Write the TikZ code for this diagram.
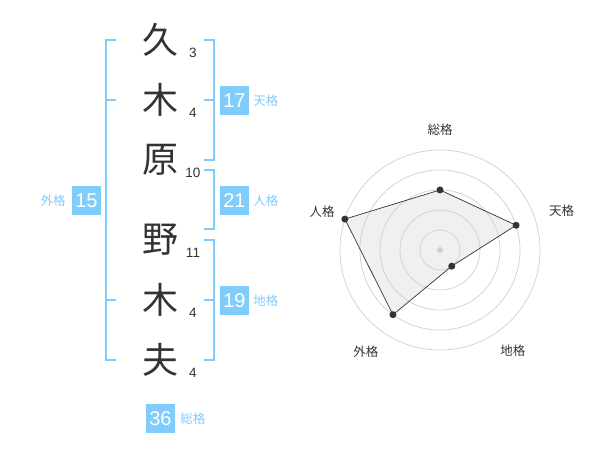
\documentclass[tikz,border=0pt]{standalone}
\usepackage{fontspec}
\setmainfont{Liberation Sans}
\newfontfamily\jpfont{Noto Sans CJK JP}
\usetikzlibrary{positioning}
\definecolor{skyline}{HTML}{80CCFA}
\definecolor{inkgray}{HTML}{333333}
\definecolor{ringgray}{HTML}{D0D0D0}
\definecolor{webfill}{HTML}{F0F0F0}

\begin{document}
\begin{tikzpicture}[x=1pt, y=1pt,
    kanji/.style={text=inkgray, font=\jpfont\fontsize{36}{36}\selectfont, inner sep=0pt},
    strokes/.style={text=inkgray, font=\fontsize{13.5}{13.5}\selectfont, inner sep=0pt},
    scorebox/.style={fill=skyline, text=white, minimum size=29pt, inner sep=0pt, font=\fontsize{20}{20}\selectfont},
    scorelabel/.style={text=skyline, font=\jpfont\fontsize{12.5}{12.5}\selectfont, inner sep=0pt},
    bracket/.style={draw=skyline, line width=2pt},
    ring/.style={draw=ringgray, line width=0.7pt},
    axislabel/.style={text=inkgray, font=\jpfont\fontsize{12.5}{12.5}\selectfont, inner sep=0pt},
    dot/.style={circle, fill=inkgray, minimum size=7pt, inner sep=0pt}]

    \useasboundingbox (0,0) rectangle (600,470);

    % characters of the name and their stroke counts
    \foreach \ch/\n/\y [count=\i] in {久/3/430, 木/4/370, 原/10/310, 野/11/230, 木/4/170, 夫/4/110} {
        \node[kanji] (k\i) at (160,\y) {\ch};
        \node[strokes] (s\i) at (193,\y-13) {\n};
    }

    % brackets
    \draw[bracket] (116,430) -- (106,430) -- (106,110) -- (116,110);
    \draw[bracket] (106,370) -- (116,370);
    \draw[bracket] (106,170) -- (116,170);
    \draw[bracket] (204,430) -- (214,430) -- (214,310) -- (204,310);
    \draw[bracket] (204,370) -- (214,370);
    \draw[bracket] (204,300) -- (214,300) -- (214,241) -- (204,241);
    \draw[bracket] (204,230) -- (214,230) -- (214,110) -- (204,110);
    \draw[bracket] (204,170) -- (214,170);

    % scores
    \node[scorebox] (ten) at (234.5,369.5) {17};
    \node[scorelabel, right=4pt of ten] (tenl) {天格};
    \node[scorebox] (jin) at (234.5,269.5) {21};
    \node[scorelabel, right=4pt of jin] (jinl) {人格};
    \node[scorebox] (chi) at (234.5,169.5) {19};
    \node[scorelabel, right=4pt of chi] (chil) {地格};
    \node[scorebox] (gai) at (86.5,269.5) {15};
    \node[scorelabel, left=6pt of gai] (gail) {外格};
    \node[scorebox] (sou) at (160.5,51) {36};
    \node[scorelabel, right=5pt of sou] (soul) {総格};

    % radar chart
    \coordinate (c) at (440,220);
    \foreach \a/\v/\d/\lbl [count=\i] in {90/3/120/総格, 18/4/128/天格, -54/1/124/地格, -126/4/126/外格, 162/5/124/人格} {
        \path (c) ++(\a:\v*20) coordinate (p\i);
        \node[axislabel] (ax\i) at ([shift={(\a:\d)}]c) {\lbl};
    }
    \fill[webfill] (p1) -- (p2) -- (p3) -- (p4) -- (p5) -- cycle;
    \foreach \r in {20,40,...,100}
        \draw[ring] (c) circle[radius=\r pt];
    \fill[ringgray] (c) circle[radius=3pt];
    \draw[inkgray, line width=0.7pt] (p1) -- (p2) -- (p3) -- (p4) -- (p5) -- cycle;
    \foreach \i in {1,...,5}
        \node[dot] at (p\i) {};
\end{tikzpicture}
\end{document}
